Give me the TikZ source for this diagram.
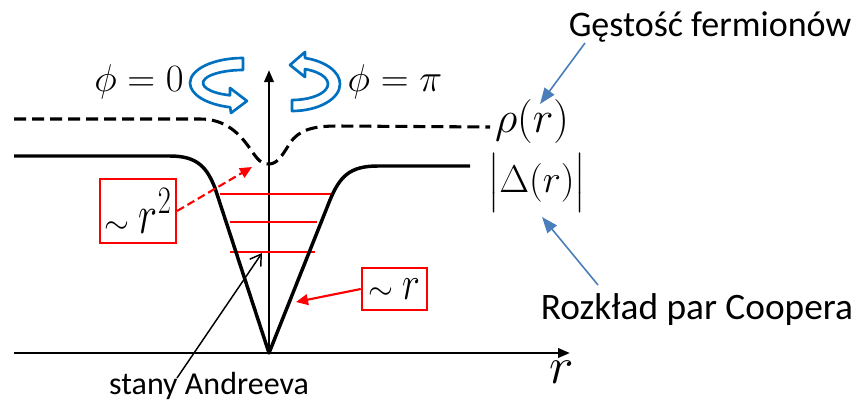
\RequirePackage{fix-cm}
\documentclass[tikz,border=0pt]{standalone}
\usepackage{amsmath}
\usepackage{fontspec}
\setmainfont{Carlito}
\usetikzlibrary{arrows.meta}
\definecolor{ringblue}{RGB}{0,112,192}
\definecolor{callblue}{RGB}{74,126,187}
\definecolor{boxred}{RGB}{255,0,0}
\tikzset{
  axisline/.style={line width=1.9pt,-{Triangle[length=9pt,width=7pt]}},
  curveline/.style={line width=2.6pt,line join=round},
  rholine/.style={line width=2.3pt,dash pattern=on 9pt off 4.5pt},
  level/.style={draw=boxred,line width=0.8pt},
  ring/.style={draw=ringblue,fill=white,line width=2pt,line join=round},
  callout/.style={draw=callblue,line width=1.2pt,-{Triangle[length=12pt,width=9pt]}},
  redbox/.style={draw=boxred,line width=1.6pt,inner sep=0pt},
  mathlbl/.style={inner sep=0pt,font=\fontsize{29}{33}\selectfont},
  txt/.style={inner sep=0pt,font=\fontsize{27}{31}\selectfont},
}
\begin{document}
\begin{tikzpicture}[x=0.75pt,y=-0.75pt]
\useasboundingbox (0,0) rectangle (866,407);
% axes
\coordinate (o) at (269,353);
\coordinate (xl) at (14,353);
\coordinate (xr) at (570,353);
\coordinate (yt) at (269,70);
\draw[axisline] (xl) -- (xr);
\draw[axisline] (o) -- (yt);
% red Andreev levels
\draw[level] (220,194) -- (332,194);
\draw[level] (230,222) -- (317,222);
\draw[level] (230,252) -- (315,252);
% |Delta| curve
\draw[curveline] (14,156) -- (170,156) .. controls (198,156) and (207,168) .. (215,188)
  -- (o) -- (330,200) .. controls (340,176) and (350,166) .. (378,166) -- (470,166);
% rho curve
\draw[rholine] (14,119) -- (200,119) .. controls (226,119) and (240,134) .. (251,150)
  .. controls (258,160) and (261,164) .. (269,164) .. controls (277,164) and (282,156) .. (290,143)
  .. controls (299,130) and (312,126) .. (338,126) -- (490,127);
% rotation arrows
\draw[ring] (243,58) arc[start angle=270,end angle=104,x radius=53,y radius=25]
  -- (231,113) -- (247,101) -- (230,88) -- (230,95.3)
  arc[start angle=109,end angle=270,x radius=40,y radius=13] -- cycle;
\draw[ring] (292,111) arc[start angle=90,end angle=-74.3,x radius=48,y radius=27]
  -- (305,52) -- (290,65) -- (305,77) -- (305,69.1)
  arc[start angle=-68.8,end angle=90,x radius=36,y radius=16] -- cycle;
% labels
\node[mathlbl] (phi0) at (139,82) {$\phi=0$};
\node[mathlbl] (phipi) at (395,82) {$\phi=\pi$};
\node[mathlbl,font=\fontsize{33}{37}\selectfont] (rho) at (532,121) {$\rho(r)$};
\node[mathlbl,font=\fontsize{29}{33}\selectfont] (delta) at (537,183) {$\big|\Delta(r)\big|$};
\node[mathlbl,font=\fontsize{39}{43}\selectfont] (rlab) at (562,372) {$r$};
\node[redbox,minimum width=57pt,minimum height=48pt] (box1) at (138,211)
  {{\fontsize{24}{28}\selectfont$\sim$}\hspace{7pt}\scalebox{0.95}[1.3]{\fontsize{32}{36}\selectfont$r^{\scriptstyle 2}$}};
\node[redbox,minimum width=49pt,minimum height=31.5pt] (box2) at (394.5,289)
  {{\fontsize{24}{28}\selectfont$\sim$}\hspace{7pt}\scalebox{0.95}[1.2]{\fontsize{30}{34}\selectfont$r$}};
\node[txt] (gest) at (710,27) {Gęstość fermionów};
\node[txt,font=\fontsize{28}{32}\selectfont] (rozk) at (697,310) {Rozkład par Coopera};
\node[txt,font=\fontsize{24}{28}\selectfont] (stany) at (209,386) {stany Andreeva};
% connectors
\coordinate (dip) at (252,167);
\coordinate (slope) at (296,302);
\coordinate (lev) at (262,253);
\coordinate (g1) at (585,43);
\coordinate (g2) at (540,104);
\coordinate (r1) at (598,285);
\coordinate (r2) at (542,217);
\coordinate (s1) at (177,378);
\draw[draw=boxred,line width=1.6pt,dash pattern=on 6pt off 3pt,-{Triangle[length=9pt,width=8pt]}] (box1.east) -- (dip);
\draw[draw=boxred,line width=1.6pt,-{Triangle[length=9pt,width=8pt]}] (box2.west) -- (slope);
\draw[callout] (g1) -- (g2);
\draw[callout] (r1) -- (r2);
\draw[line width=1.1pt,-{Straight Barb[length=8pt,width=10pt]}] (s1) -- (lev);
\end{tikzpicture}
\end{document}
